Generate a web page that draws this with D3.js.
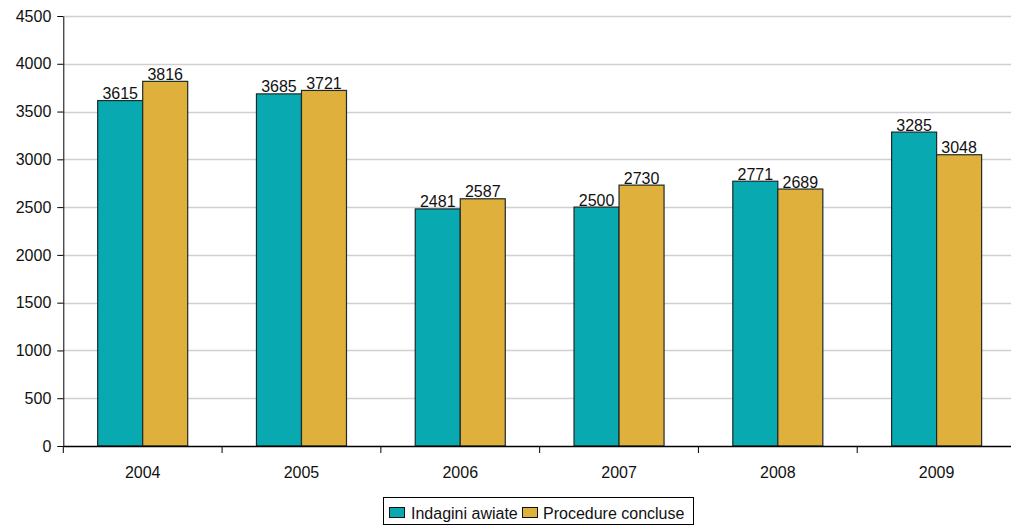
<!DOCTYPE html>
<html><head><meta charset="utf-8">
<script src="https://cdn.jsdelivr.net/npm/d3@7"></script>
<style>body{margin:0;background:#fff}svg{display:block}text{font-family:"Liberation Sans",Arial,sans-serif}</style>
</head><body>
<svg id="c" width="1011" height="525"></svg>
<script>
const years = ["2004","2005","2006","2007","2008","2009"];
const indagini = [3615,3685,2481,2500,2771,3285];
const procedure = [3816,3721,2587,2730,2689,3048];
const seriesNames = ["Indagini awiate","Procedure concluse"];
const seriesColors = ["#08a9b0","#e0b03c"];
const yTicks = [0,500,1000,1500,2000,2500,3000,3500,4000,4500];

const svg = d3.select("#c");
const x0 = 63.3, x1 = 1016, yTop = 16, yBot = 446;
const FS = 16;
const x = d3.scaleBand().domain(years).range([x0,x1]).paddingInner(0).paddingOuter(0);
const groupFrac = 0.567;
const xs = d3.scaleBand().domain([0,1]).range([0, x.bandwidth()*groupFrac]);
const y = d3.scaleLinear().domain([0,4500]).range([yBot,yTop]);

// grid
svg.append("g").selectAll("line").data(yTicks.filter(d=>d>0)).join("line")
  .attr("x1",x0).attr("x2",1011).attr("y1",d=>Math.round(y(d))+0.5).attr("y2",d=>Math.round(y(d))+0.5)
  .attr("stroke","#d0d0d0").attr("stroke-width",1.5);

// bars
const series = [indagini, procedure];
const g = svg.append("g");
years.forEach((yr,i)=>{
  const gx = x(yr) + (x.bandwidth() - x.bandwidth()*groupFrac)/2;
  series.forEach((s,j)=>{
    const bx = gx + xs(j);
    g.append("rect").attr("x",bx).attr("y",y(s[i])).attr("width",xs.bandwidth()).attr("height",yBot-y(s[i]))
      .attr("fill",seriesColors[j]).attr("stroke","#1e2a2a").attr("stroke-width",1.2);
    g.append("text").attr("x",bx+xs.bandwidth()/2).attr("y",y(s[i])-1.5).attr("text-anchor","middle")
      .attr("font-size",FS).attr("fill","#111").text(s[i]);
  });
});

// y axis
const ya = svg.append("g").attr("transform",`translate(${x0},0)`)
  .call(d3.axisLeft(y).tickValues(yTicks).tickSize(6).tickSizeOuter(0).tickFormat(d3.format("d")));
ya.select(".domain").attr("stroke","#000");
ya.selectAll(".tick line").attr("stroke","#000");
ya.selectAll(".tick text").attr("font-size",FS).attr("fill","#111").attr("font-family","Liberation Sans, Arial, sans-serif").attr("x",-12);

// x axis
const xa = svg.append("g").attr("transform",`translate(0,${yBot})`)
  .call(d3.axisBottom(x).tickSize(0).tickPadding(21));
xa.select(".domain").attr("stroke","#000").attr("stroke-width",1.5);
xa.selectAll(".tick text").attr("font-size",FS).attr("fill","#111").attr("font-family","Liberation Sans, Arial, sans-serif");
svg.append("g").selectAll("line").data(years).join("line")
  .attr("x1",d=>x(d)).attr("x2",d=>x(d)).attr("y1",yBot).attr("y2",yBot+7).attr("stroke","#000");

// legend
const lg = svg.append("g");
lg.append("rect").attr("x",383.5).attr("y",497.5).attr("width",310).attr("height",27).attr("fill","#fff").attr("stroke","#000");
const lx = [389,522], tx = [411,543];
seriesNames.forEach((n,j)=>{
  lg.append("rect").attr("x",lx[j]+0.5).attr("y",507.5).attr("width",15).attr("height",10)
    .attr("fill",seriesColors[j]).attr("stroke","#111");
  lg.append("text").attr("x",tx[j]).attr("y",519).attr("font-size",FS).attr("fill","#111").text(n);
});
</script>
</body></html>
